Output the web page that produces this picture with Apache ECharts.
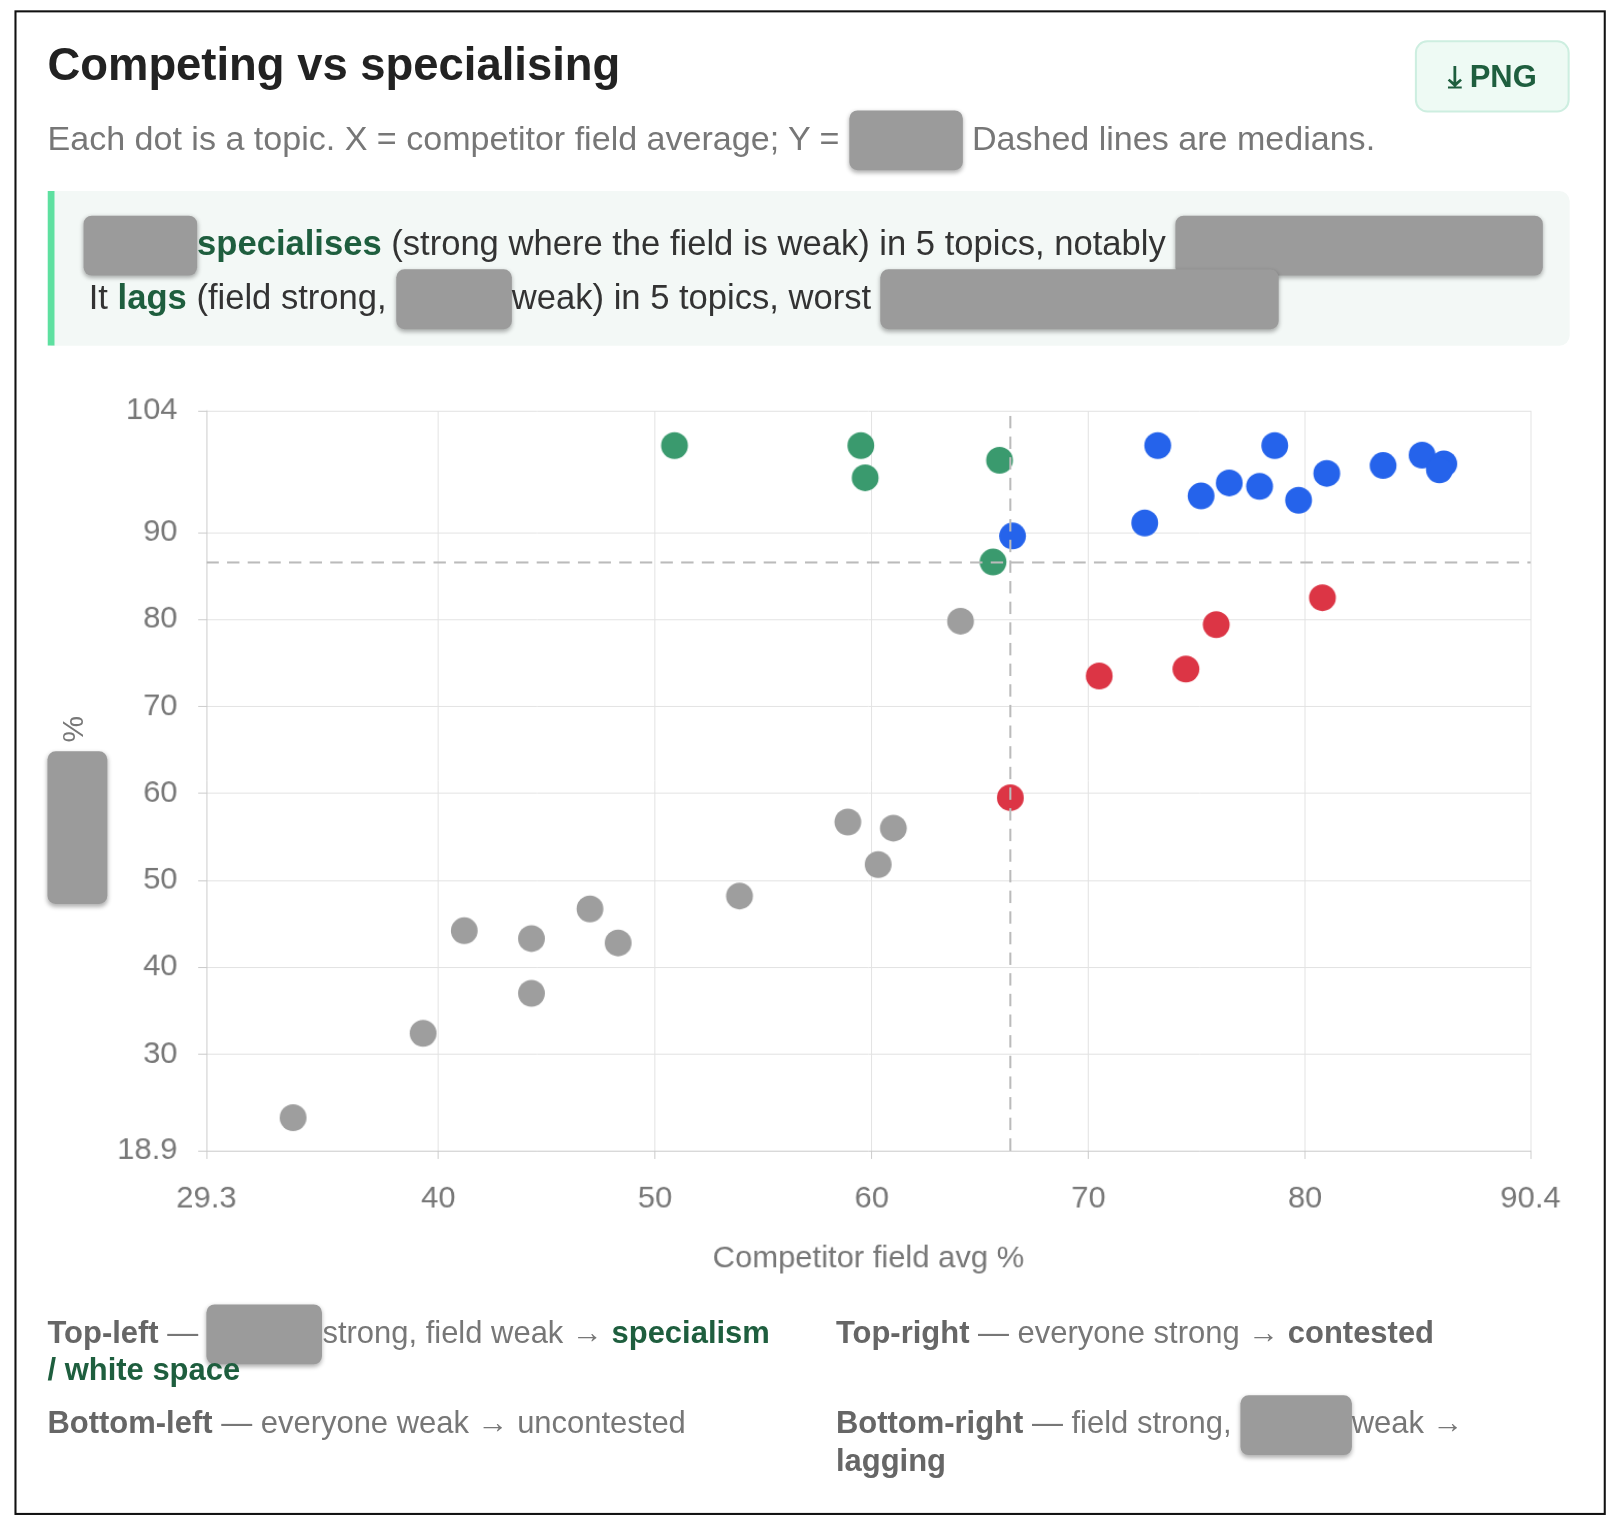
<!DOCTYPE html>
<html>
<head>
<meta charset="utf-8">
<title>Competing vs specialising</title>
<script src="https://cdn.jsdelivr.net/npm/echarts@6/dist/echarts.min.js"></script>
<style>
  body { margin:0; width:1616px; height:1520px; background:#fff; font-family:"Liberation Sans", Arial, sans-serif; overflow:hidden; }
  #wrap { position:absolute; left:0; top:0; width:1570px; height:1480px; transform:scale(1.032); transform-origin:0 0; }
  .card { position:absolute; left:14px; top:10px; width:1538px; height:1454px; border:2px solid #111; }
  .abs { position:absolute; white-space:nowrap; }
  .red { display:inline-block; background:#9b9b9b; border-radius:8px; box-shadow:0 2px 4px rgba(0,0,0,.3); vertical-align:middle; margin:-12px 0; }
  .title { left:46px; top:38px; font-size:44px; font-weight:bold; color:#222; }
  .sub { left:46px; top:114px; font-size:33px; color:#777; line-height:40px; }
  .btn { left:1371px; top:39px; width:146px; height:66px; border:2px solid #cdeee0; background:#eefaf4; border-radius:12px; color:#1e5e3e; font-weight:bold; font-size:30px; text-align:center; line-height:66px; }
  .callout { left:46px; top:185px; width:1468px; height:150px; background:#f3f8f6; border-left:7px solid #5ee0a0; border-radius:0 10px 10px 0; font-size:33.5px; color:#333; }
  .callout .abs { line-height:40px; }
  .g { color:#1e5e3e; font-weight:bold; }
  .leg { font-size:30px; color:#777; line-height:40px; }
  .leg b { color:#666; }
  #chart { position:absolute; left:14px; top:360px; width:1542px; height:900px; }
</style>
</head>
<body>
<div id="wrap">
<div class="card"></div>
<div class="abs title">Competing vs specialising</div>
<div class="abs sub">Each dot is a topic. X = competitor field average; Y = <span class="red" style="width:110px;height:58px"></span> Dashed lines are medians.</div>
<div class="abs btn">⤓ PNG</div>
<div class="abs callout">
  <div class="abs" style="left:28px;top:31px"><span class="red" style="width:110px;height:58px"></span><span class="g">specialises</span> (strong where the field is weak) in 5 topics, notably <span class="red" style="width:356px;height:58px"></span></div>
  <div class="abs" style="left:33px;top:83px">It <span class="g">lags</span> (field strong, <span class="red" style="width:112px;height:58px"></span>weak) in 5 topics, worst <span class="red" style="width:386px;height:58px"></span></div>
</div>
<div id="chart"></div>
<div class="abs" style="left:58px;top:690px;font-size:29px;color:#777;transform:rotate(-90deg);">%</div>
<div class="abs red" style="left:46px;top:728px;width:58px;height:148px;margin:0"></div>
<div class="abs leg" style="left:46px;top:1271px"><b>Top-left</b> — <span class="red" style="width:112px;height:58px"></span>strong, field weak → <span class="g">specialism</span></div>
<div class="abs leg" style="left:46px;top:1307px"><span class="g">/ white space</span></div>
<div class="abs leg" style="left:810px;top:1271px"><b>Top-right</b> — everyone strong → <b>contested</b></div>
<div class="abs leg" style="left:46px;top:1359px"><b>Bottom-left</b> — everyone weak → uncontested</div>
<div class="abs leg" style="left:810px;top:1359px"><b>Bottom-right</b> — field strong, <span class="red" style="width:108px;height:58px"></span>weak →</div>
<div class="abs leg" style="left:810px;top:1395px"><b>lagging</b></div>
</div>
<script>
var specialism = [[50.9,100.0],[59.5,100.0],[59.7,96.3],[65.9,98.3],[65.6,86.6]];
var contested = [[66.5,89.6],[73.2,100.0],[72.6,91.1],[75.2,94.2],[76.5,95.7],[77.9,95.3],[78.6,100.0],[79.7,93.7],[81.0,96.8],[83.6,97.7],[85.4,98.9],[86.4,97.9],[86.2,97.2]];
var lagging = [[70.5,73.5],[74.5,74.3],[75.9,79.4],[80.8,82.5],[66.4,59.5]];
var uncontested = [[64.1,79.8],[58.9,56.7],[61.0,56.0],[60.3,51.8],[53.9,48.2],[47.0,46.7],[48.3,42.8],[41.2,44.2],[44.3,43.3],[44.3,37.0],[39.3,32.4],[33.3,22.7]];
var xTicks = [29.3,40,50,60,70,80,90.4];
var yTicks = [18.9,30,40,50,60,70,80,90,104];
var medianX = 66.4, medianY = 86.6;

var chart = echarts.init(document.getElementById('chart'));
function s(data, color, extra) {
  var o = { type:'scatter', data:data, symbolSize:26, itemStyle:{ color:color, opacity:1 } };
  return Object.assign(o, extra || {});
}
var lbl = { color:'#777', fontSize:30, fontFamily:'Liberation Sans, Arial' };
chart.setOption({
  animation:false,
  grid:{ left:186, right:73, top:38, bottom:145 },
  xAxis:{ type:'value', min:29.3, max:90.4,
    name:'Competitor field avg %', nameLocation:'middle', nameGap:90,
    nameTextStyle:{ color:'#777', fontSize:30 },
    axisLine:{ show:true, lineStyle:{ color:'#ccc' } },
    axisTick:{ show:true, customValues:xTicks, length:8, lineStyle:{ color:'#ccc' } },
    axisLabel:Object.assign({ customValues:xTicks, margin:32 }, lbl),
    splitLine:{ show:true, lineStyle:{ color:'#e3e3e3' } } },
  yAxis:{ type:'value', min:18.9, max:104,
    axisLine:{ show:true, lineStyle:{ color:'#ccc' } },
    axisTick:{ show:true, customValues:yTicks, length:8, lineStyle:{ color:'#ccc' } },
    axisLabel:Object.assign({ customValues:yTicks, margin:28 }, lbl),
    splitLine:{ show:true, lineStyle:{ color:'#e3e3e3' } } },
  series:[
    s(uncontested, '#9e9e9e', { markLine:{ silent:true, symbol:'none', label:{show:false},
      lineStyle:{ color:'#bbb', type:[12,8], width:2 },
      data:[{ xAxis:medianX }, { yAxis:medianY }] } }),
    s(specialism, '#3a9a6e'),
    s(contested, '#2563eb'),
    s(lagging, '#dc3545')
  ]
});
</script>
</body>
</html>
